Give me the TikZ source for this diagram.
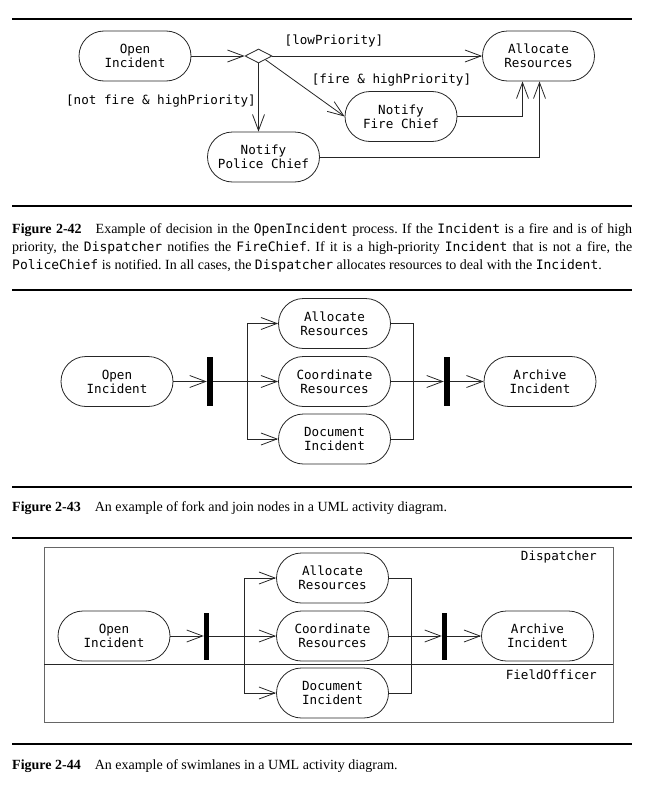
\documentclass[tikz,border=0pt]{standalone}
\usepackage{fontspec}
\setmainfont{Liberation Serif}
\newfontfamily\dgmono{DejaVu Sans Mono}
\usetikzlibrary{arrows.meta,shapes.geometric}
\newcommand{\dgf}{\dgmono\fontsize{12.6}{14}\selectfont}
\newcommand{\capfont}{\fontsize{14}{18}\selectfont\hyphenpenalty=10000\frenchspacing }
\newcommand{\capcode}[1]{{\dgmono\fontsize{13}{18}\selectfont #1}}
\begin{document}
\begin{tikzpicture}[x=1pt,y=-1pt,
  act/.style={draw=black!85, line width=0.8pt, rounded corners=25pt,
    minimum width=112pt, minimum height=50pt, align=center, font=\dgf, inner sep=0pt},
  forkbar/.style={fill=black, draw=none, minimum width=6pt, minimum height=49pt, inner sep=0pt},
  flow/.style={draw=black!85, line width=0.8pt, -{Straight Barb[length=16pt,width=12pt]}},
  link/.style={draw=black!85, line width=0.8pt},
  rulesep/.style={line width=2pt},
  lbl/.style={font=\dgf, inner sep=0pt},
  figcap/.style={anchor=north west, inner sep=0pt, text width=620pt, align=justify, font=\capfont}]
\useasboundingbox (0,0) rectangle (658,803);

% ---------- Figure 2-42 ----------
\draw[rulesep] (12,19) -- (632,19);
\node[act] (oi1) at (135,56) {Open\\Incident};
\node[draw=black!85, line width=0.8pt, diamond, aspect=2, minimum width=27pt,
      minimum height=14pt, inner sep=0pt] (dec) at (258.5,56) {};
\node[act] (ar1) at (538.5,56) {Allocate\\Resources};
\node[act] (fc) at (401,116.5) {Notify\\Fire Chief};
\node[act] (pc) at (263.5,157) {Notify\\Police Chief};
\draw[flow] (oi1.east) -- (dec.west);
\draw[flow] (dec.east) -- (ar1.west);
\draw[flow] (dec.south east) -- (fc.west);
\draw[flow] (dec.south) -- (dec.south |- pc.north);
\draw[flow] (fc.east) -| ([xshift=-16pt]ar1.south);
\draw[flow] (pc.east) -| ([xshift=1pt]ar1.south);
\node[lbl] (l1) at (334,41) {[lowPriority]};
\node[lbl] (l2) at (391.5,80) {[fire \& highPriority]};
\node[lbl, anchor=east] (l3) at (256,101) {[not fire \& highPriority]};
\draw[rulesep] (12,206) -- (632,206);
\node[figcap] (c1) at (12,223) {\textbf{Figure 2-42}\hspace{1em}Example of decision in the \capcode{OpenIncident} process. If the \capcode{Incident} is a fire and is of high\linebreak priority, the \capcode{Dispatcher} notifies the \capcode{FireChief}. If it is a high-priority \capcode{Incident} that is not a fire, the\linebreak \capcode{PoliceChief} is notified. In all cases, the \capcode{Dispatcher} allocates resources to deal with the \capcode{Incident}.};

% ---------- Figure 2-43 ----------
\draw[rulesep] (12,290) -- (632,290);
\node[act] (oi2) at (117,381.5) {Open\\Incident};
\node[forkbar] (fk2) at (210,381.5) {};
\node[act] (ar2) at (334.5,323.5) {Allocate\\Resources};
\node[act] (cr2) at (334.5,381.5) {Coordinate\\Resources};
\node[act] (di2) at (334.5,439) {Document\\Incident};
\node[forkbar] (jn2) at (447,381.5) {};
\node[act] (ac2) at (540,381.5) {Archive\\Incident};
\coordinate (b2) at (247,381.5);
\coordinate (m2) at (413,381.5);
\draw[flow] (oi2.east) -- (fk2.west);
\draw[flow] (fk2.east) -- (cr2.west);
\draw[flow] (b2) |- (ar2.west);
\draw[flow] (b2) |- (di2.west);
\draw[link] (ar2.east) -| (m2);
\draw[link] (di2.east) -| (m2);
\draw[flow] (cr2.east) -- (jn2.west);
\draw[flow] (jn2.east) -- (ac2.west);
\draw[rulesep] (12,487) -- (632,487);
\node[figcap] (c2) at (12,501) {\textbf{Figure 2-43}\hspace{1em}An example of fork and join nodes in a UML activity diagram.};

% ---------- Figure 2-44 ----------
\draw[rulesep] (12,538) -- (632,538);
\draw[draw=black!60, line width=0.8pt] (44,547) rectangle (613,722);
\draw[link] (44,664) -- (613,664);
\node[lbl, anchor=east] (ln1) at (597,557) {Dispatcher};
\node[lbl, anchor=east] (ln2) at (597,675) {FieldOfficer};
\node[act] (oi3) at (114,636) {Open\\Incident};
\node[forkbar, minimum width=5pt, minimum height=47pt] (fk3) at (206.5,636) {};
\node[act] (ar3) at (332.5,578) {Allocate\\Resources};
\node[act] (cr3) at (332.5,636) {Coordinate\\Resources};
\node[act] (di3) at (332.5,693) {Document\\Incident};
\node[forkbar, minimum width=5pt, minimum height=47pt] (jn3) at (444.5,636) {};
\node[act] (ac3) at (537.5,636) {Archive\\Incident};
\coordinate (b3) at (244,636);
\coordinate (m3) at (411,636);
\draw[flow] (oi3.east) -- (fk3.west);
\draw[flow] (fk3.east) -- (cr3.west);
\draw[flow] (b3) |- (ar3.west);
\draw[flow] (b3) |- (di3.west);
\draw[link] (ar3.east) -| (m3);
\draw[link] (di3.east) -| (m3);
\draw[flow] (cr3.east) -- (jn3.west);
\draw[flow] (jn3.east) -- (ac3.west);
\draw[rulesep] (12,744) -- (632,744);
\node[figcap] (c3) at (12,759) {\textbf{Figure 2-44}\hspace{1em}An example of swimlanes in a UML activity diagram.};
\end{tikzpicture}
\end{document}
